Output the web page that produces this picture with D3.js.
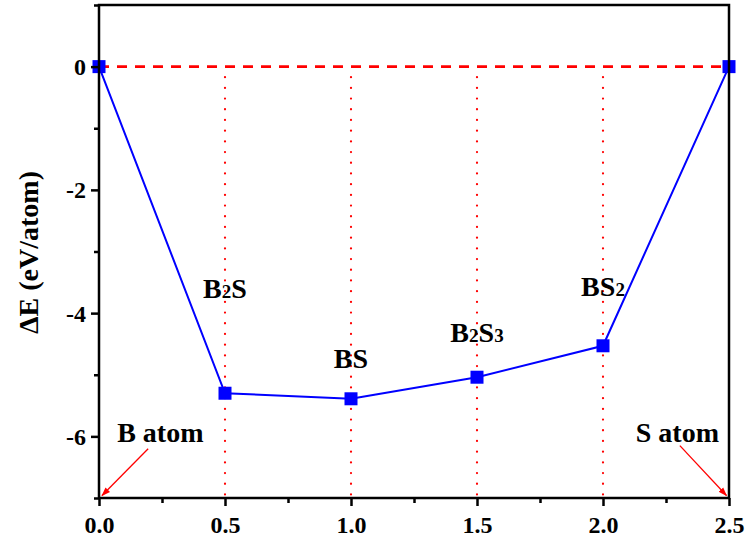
<!DOCTYPE html>
<html>
<head>
<meta charset="utf-8">
<script src="https://cdn.jsdelivr.net/npm/d3@7"></script>
<style>
  body { margin: 0; background: #fff; }
  svg text { font-family: "Liberation Serif", "Times New Roman", serif; font-weight: bold; }
</style>
</head>
<body>
<div id="viz"></div>
<script>
var width = 750,
    height = 542;

// plot area
var margin = {top: 5, right: 21, bottom: 44, left: 99};
var serif = "'Liberation Serif', 'Times New Roman', serif";

// the data
var xs = [0.0, 0.5, 1.0, 1.5, 2.0, 2.5];
var energies = [0, -5.30, -5.39, -5.04, -4.53, 0];
var phases = ["", "B2S", "BS", "B2S3", "BS2", ""];
var phaseLabelY = [null, -3.76, -4.89, -4.47, -3.73, null];
var xTicks = [0.0, 0.5, 1.0, 1.5, 2.0, 2.5];
var xMinor = [0.25, 0.75, 1.25, 1.75, 2.25];
var yTicks = [0, -2, -4, -6];
var yMinor = [1, -1, -3, -5, -7];

var x = d3.scaleLinear().domain([0, 2.5]).range([margin.left, width - margin.right]);
var y = d3.scaleLinear().domain([-7, 1]).range([height - margin.bottom, margin.top]);

var svg = d3.select("div#viz").append("svg")
    .attr("width", width)
    .attr("height", height);

svg.append("defs").append("marker")
    .attr("id", "arrow")
    .attr("viewBox", "0 0 10 10")
    .attr("refX", 9).attr("refY", 5)
    .attr("markerWidth", 7).attr("markerHeight", 7)
    .attr("orient", "auto")
    .append("path")
    .attr("d", "M0,1.5L10,5L0,8.5Z")
    .attr("fill", "#ff0000");

// vertical dotted lines at the compounds
svg.append("g").selectAll("line")
    .data(xs.slice(1, 5))
    .enter().append("line")
    .attr("x1", function(d) { return x(d); })
    .attr("x2", function(d) { return x(d); })
    .attr("y1", y(-0.17))
    .attr("y2", y(-7))
    .attr("stroke", "#ff0000")
    .attr("stroke-width", 2.2)
    .attr("stroke-linecap", "round")
    .attr("stroke-dasharray", "0.1 10.6");

// zero line
svg.append("line")
    .attr("x1", x(0)).attr("x2", x(2.5))
    .attr("y1", y(0)).attr("y2", y(0))
    .attr("stroke", "#ff0000")
    .attr("stroke-width", 2.6)
    .attr("stroke-dasharray", "10 8");

// energy line
var line = d3.line()
    .x(function(d, i) { return x(xs[i]); })
    .y(function(d) { return y(d); });

svg.append("path")
    .datum(energies)
    .attr("d", line)
    .attr("fill", "none")
    .attr("stroke", "#0000ff")
    .attr("stroke-width", 2);

svg.append("g").selectAll("rect")
    .data(energies)
    .enter().append("rect")
    .attr("x", function(d, i) { return x(xs[i]) - 6.5; })
    .attr("y", function(d) { return y(d) - 6.5; })
    .attr("width", 13)
    .attr("height", 13)
    .attr("fill", "#0000ff");

// phase labels with small subscripts
var lab = svg.append("g").selectAll("text")
    .data(xs.map(function(d, i) { return {x: d, name: phases[i], ly: phaseLabelY[i]}; })
        .filter(function(d) { return d.name; }))
    .enter().append("text")
    .attr("x", function(d) { return x(d.x); })
    .attr("y", function(d) { return y(d.ly); })
    .attr("text-anchor", "middle")
    .style("font-family", serif)
    .style("font-weight", "bold")
    .style("font-size", "28px");

lab.each(function(d) {
    var t = d3.select(this);
    d.name.match(/[A-Z]|\d/g).forEach(function(c) {
        if (/\d/.test(c)) t.append("tspan").style("font-size", "19px").text(c);
        else t.append("tspan").text(c);
    });
});

// atom annotations
svg.append("text").attr("x", x(0.072)).attr("y", y(-6.09))
    .style("font-family", serif).style("font-weight", "bold").style("font-size", "28px")
    .text("B atom");
svg.append("text").attr("x", x(2.13)).attr("y", y(-6.09))
    .style("font-family", serif).style("font-weight", "bold").style("font-size", "28px")
    .text("S atom");

svg.append("line")
    .attr("x1", x(0.195)).attr("y1", y(-6.2))
    .attr("x2", x(0.012)).attr("y2", y(-6.96))
    .attr("stroke", "#ff0000").attr("stroke-width", 1.3)
    .attr("marker-end", "url(#arrow)");
svg.append("line")
    .attr("x1", x(2.305)).attr("y1", y(-6.15))
    .attr("x2", x(2.49)).attr("y2", y(-6.96))
    .attr("stroke", "#ff0000").attr("stroke-width", 1.3)
    .attr("marker-end", "url(#arrow)");

// frame
svg.append("rect")
    .attr("x", x(0)).attr("y", y(1))
    .attr("width", x(2.5) - x(0))
    .attr("height", y(-7) - y(1))
    .attr("fill", "none")
    .attr("stroke", "#000")
    .attr("stroke-width", 2.5);

// axes
var xAxis = svg.append("g")
    .attr("transform", "translate(0," + y(-7) + ")")
    .call(d3.axisBottom(x).tickValues(xTicks).tickFormat(d3.format(".1f")).tickSize(8).tickPadding(10));
svg.append("g")
    .attr("transform", "translate(0," + y(-7) + ")")
    .call(d3.axisBottom(x).tickValues(xMinor).tickFormat("").tickSize(5));

var yAxis = svg.append("g")
    .attr("transform", "translate(" + x(0) + ",0)")
    .call(d3.axisLeft(y).tickValues(yTicks).tickFormat(function(d) { return String(d); }).tickSize(8).tickPadding(5));
svg.append("g")
    .attr("transform", "translate(" + x(0) + ",0)")
    .call(d3.axisLeft(y).tickValues(yMinor).tickFormat("").tickSize(5));

svg.selectAll(".domain").remove();
svg.selectAll(".tick line").attr("stroke", "#000").attr("stroke-width", 2.5);
svg.selectAll(".tick text")
    .style("font-family", serif)
    .style("font-weight", "bold")
    .style("font-size", "24px")
    .attr("fill", "#000");
xAxis.selectAll(".tick text").attr("dy", "0.71em");
yAxis.selectAll(".tick text").attr("dy", "0.33em");

// axis title
svg.append("text")
    .attr("transform", "translate(38," + ((y(1) + y(-7)) / 2 + 1) + ") rotate(-90)")
    .attr("text-anchor", "middle")
    .style("font-family", serif)
    .style("font-weight", "bold")
    .style("font-size", "28px")
    .text("ΔE (eV/atom)");
</script>
</body>
</html>
